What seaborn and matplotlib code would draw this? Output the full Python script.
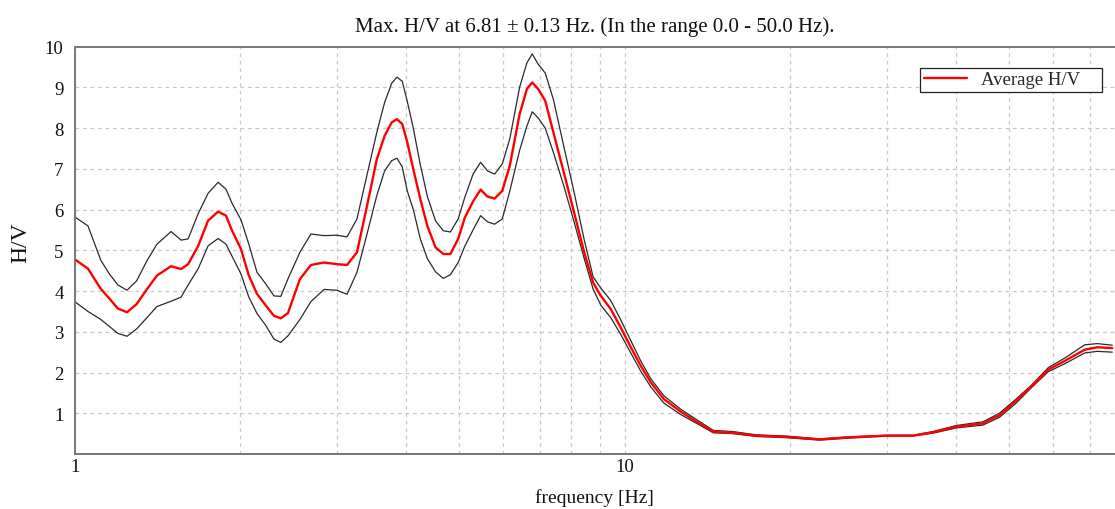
import numpy as np
import pandas as pd
import matplotlib
matplotlib.use("Agg")
import matplotlib.pyplot as plt
import matplotlib.ticker as mticker
import seaborn as sns

# ---- data ----
freq = [1.00, 1.057, 1.116, 1.159, 1.198, 1.245, 1.296, 1.354, 1.411, 1.497,
        1.561, 1.608, 1.677, 1.748, 1.823, 1.884, 1.933, 2.006, 2.073, 2.145,
        2.227, 2.303, 2.37, 2.442, 2.567, 2.688, 2.84, 2.996, 3.127, 3.26,
        3.40, 3.543, 3.66, 3.77, 3.854, 3.94, 4.025, 4.127, 4.25, 4.376,
        4.53, 4.68, 4.82, 4.98, 5.12, 5.30, 5.47, 5.63, 5.80, 5.99,
        6.18, 6.44, 6.64, 6.79, 6.96, 7.17, 7.42, 7.75, 8.09, 8.44,
        8.76, 9.05, 9.43, 9.83, 10.26, 10.69, 11.15, 11.78, 12.64, 13.56,
        14.49, 15.74, 17.36, 19.7, 22.6, 25.6, 29.9, 33.4, 36.3, 40.1,
        44.8, 48.0, 51.4, 55.0, 58.9, 63.2, 68.6, 72.3, 77.0]

hv_avg = [4.78, 4.55, 4.05, 3.80, 3.57, 3.48, 3.68, 4.05, 4.38, 4.61,
          4.54, 4.66, 5.11, 5.73, 5.95, 5.85, 5.48, 5.03, 4.38, 3.93,
          3.64, 3.39, 3.33, 3.46, 4.29, 4.64, 4.70, 4.66, 4.64, 4.95,
          6.09, 7.24, 7.81, 8.14, 8.22, 8.10, 7.65, 6.99, 6.26, 5.60,
          5.07, 4.91, 4.91, 5.28, 5.80, 6.20, 6.49, 6.32, 6.27, 6.46,
          7.07, 8.34, 8.96, 9.12, 8.96, 8.67, 7.89, 6.91, 5.93, 4.95,
          4.21, 3.88, 3.56, 3.11, 2.62, 2.17, 1.76, 1.35, 1.04, 0.78,
          0.55, 0.52, 0.45, 0.42, 0.36, 0.41, 0.45, 0.45, 0.53, 0.67,
          0.75, 0.95, 1.30, 1.67, 2.07, 2.29, 2.56, 2.62, 2.60]

hv_upper = [5.82, 5.60, 4.75, 4.40, 4.15, 4.02, 4.25, 4.75, 5.15, 5.46,
            5.25, 5.28, 5.90, 6.40, 6.67, 6.50, 6.15, 5.75, 5.15, 4.46,
            4.17, 3.88, 3.87, 4.30, 4.95, 5.40, 5.36, 5.37, 5.33, 5.77,
            6.85, 7.90, 8.63, 9.10, 9.25, 9.15, 8.65, 8.00, 7.10, 6.33,
            5.72, 5.48, 5.45, 5.77, 6.30, 6.87, 7.16, 6.95, 6.87, 7.12,
            7.73, 9.00, 9.60, 9.82, 9.57, 9.35, 8.70, 7.55, 6.43, 5.26,
            4.35, 4.07, 3.77, 3.30, 2.78, 2.29, 1.85, 1.43, 1.10, 0.83,
            0.58, 0.55, 0.47, 0.44, 0.37, 0.42, 0.46, 0.46, 0.55, 0.70,
            0.79, 1.00, 1.34, 1.70, 2.12, 2.36, 2.68, 2.71, 2.67]

hv_lower = [3.74, 3.50, 3.30, 3.12, 2.96, 2.89, 3.07, 3.35, 3.62, 3.75,
            3.85, 4.15, 4.55, 5.11, 5.29, 5.15, 4.85, 4.42, 3.85, 3.45,
            3.15, 2.82, 2.74, 2.90, 3.30, 3.74, 4.04, 4.02, 3.92, 4.46,
            5.40, 6.35, 6.95, 7.20, 7.26, 7.05, 6.45, 6.00, 5.28, 4.80,
            4.47, 4.31, 4.40, 4.70, 5.10, 5.50, 5.85, 5.70, 5.64, 5.77,
            6.45, 7.45, 8.05, 8.40, 8.25, 8.00, 7.40, 6.58, 5.70, 4.80,
            4.05, 3.65, 3.35, 2.94, 2.48, 2.04, 1.65, 1.25, 0.97, 0.74,
            0.52, 0.50, 0.43, 0.40, 0.34, 0.39, 0.44, 0.44, 0.51, 0.64,
            0.71, 0.90, 1.24, 1.64, 2.02, 2.22, 2.48, 2.52, 2.50]

y_ticks = [1, 2, 3, 4, 5, 6, 7, 8, 9, 10]
x_major = [1, 10]
x_minor = [2, 3, 4, 5, 6, 7, 8, 9, 20, 30, 40, 50, 60, 70, 80, 90]

title = "Max. H/V at 6.81 \u00b1 0.13 Hz. (In the range 0.0 - 50.0 Hz)."

# ---- styling ----
sns.set_theme(style="whitegrid")
plt.rcParams["font.family"] = ["Liberation Serif", "DejaVu Serif"]

fig = plt.figure(figsize=(11.15, 5.10), dpi=100)
ax = fig.add_axes([74.7 / 1115, 55 / 510, (1115 - 74.7) / 1115, 407.4 / 510])
ax.set_facecolor("white")

df = pd.DataFrame({"freq": freq, "avg": hv_avg, "up": hv_upper, "low": hv_lower})

sns.lineplot(data=df, x="freq", y="up", ax=ax, color="#2a2a2a", lw=0.9, sort=False)
sns.lineplot(data=df, x="freq", y="low", ax=ax, color="#2a2a2a", lw=0.9, sort=False)
sns.lineplot(data=df, x="freq", y="avg", ax=ax, color="#ff0000", lw=1.7, sort=False,
             label="Average H/V    ")

ax.set_xscale("log")
ax.set_xlim(1, 10 ** ((1115 - 74.7) / 550))
ax.set_ylim(0, 10)

ax.xaxis.set_major_locator(mticker.FixedLocator(x_major))
ax.xaxis.set_major_formatter(mticker.FixedFormatter([str(v) for v in x_major]))
ax.xaxis.set_minor_locator(mticker.FixedLocator(x_minor))
ax.xaxis.set_minor_formatter(mticker.NullFormatter())
ax.yaxis.set_major_locator(mticker.FixedLocator(y_ticks))

grid_kw = dict(color="#c8c8c8", linestyle=(0, (3, 3)), linewidth=0.9)
ax.grid(True, which="major", axis="both", **grid_kw)
ax.grid(True, which="minor", axis="x", **grid_kw)

ax.tick_params(axis="both", which="both", length=0, labelsize=13.5, colors="#111111")
ax.tick_params(axis="y", pad=8)
ax.tick_params(axis="x", pad=3)

for side in ["left", "bottom", "top"]:
    ax.spines[side].set_visible(True)
    ax.spines[side].set_color("#777777")
    ax.spines[side].set_linewidth(1.4)
ax.spines["right"].set_visible(False)

ax.set_title(title, fontsize=15, pad=11, color="#111111")
ax.set_xlabel("frequency [Hz]", fontsize=14, labelpad=9, color="#111111")
ax.set_ylabel("H/V", fontsize=17, color="#111111")
ax.yaxis.set_label_coords(-0.042, 0.52)

leg = ax.legend(loc="upper right", bbox_to_anchor=(0.9875, 0.9475), borderaxespad=0,
                fontsize=13.5, frameon=True, fancybox=False, handlelength=2.3,
                handletextpad=0.75, borderpad=0.18)
leg.get_frame().set_edgecolor("#222222")
leg.get_frame().set_linewidth(0.9)
leg.get_frame().set_alpha(1)

fig.savefig("out.png", dpi=100)
